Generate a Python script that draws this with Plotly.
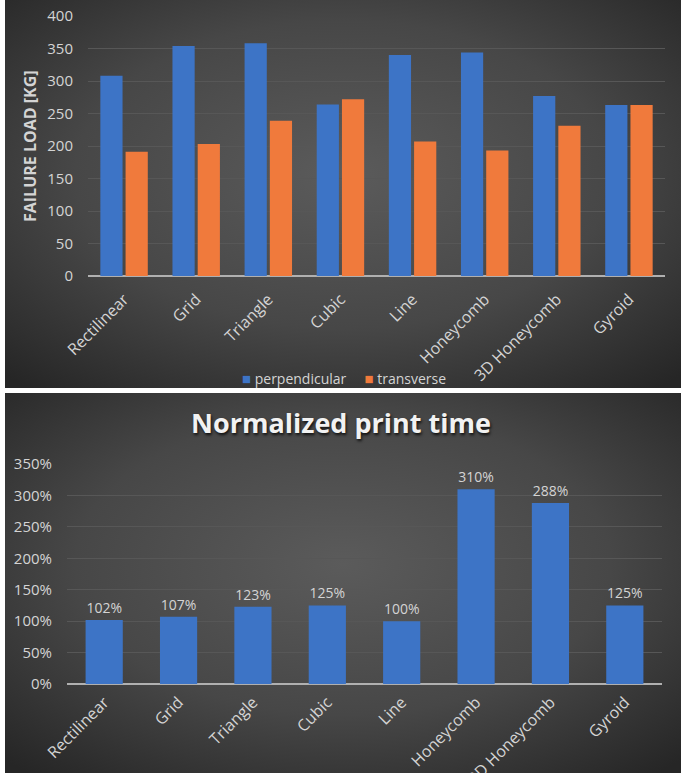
import base64
import plotly.graph_objects as go

# ---------------- data ----------------
categories = ["Rectilinear", "Grid", "Triangle", "Cubic", "Line",
              "Honeycomb", "3D Honeycomb", "Gyroid"]
perpendicular = [308, 354, 358, 264, 340, 344, 277, 263]
transverse = [191, 203, 239, 272, 207, 193, 231, 263]
print_time_pct = [102, 107, 123, 125, 100, 310, 288, 125]

series_names = ["perpendicular", "transverse"]
load_ticks = [0, 50, 100, 150, 200, 250, 300, 350, 400]
time_ticks = [0, 50, 100, 150, 200, 250, 300, 350]
time_tick_text = ["0%", "50%", "100%", "150%", "200%", "250%", "300%", "350%"]

W, H = 687, 773
BLUE = "#3d74c6"
ORANGE = "#f07a3c"
TXT = "#d4d4d4"
GRID = "#575757"
FONT = "Open Sans"


def px(x):
    return x / W


def py(y):
    return 1 - y / H


def grad_svg(w, h):
    svg = (
        f"<svg xmlns='http://www.w3.org/2000/svg' width='{w}' height='{h}' "
        f"viewBox='0 0 {w} {h}' preserveAspectRatio='none'>"
        "<defs><radialGradient id='g' cx='50%' cy='45%' r='72%'>"
        "<stop offset='0' stop-color='#5b5b5b'/>"
        "<stop offset='0.55' stop-color='#474747'/>"
        "<stop offset='1' stop-color='#262626'/>"
        "</radialGradient></defs>"
        f"<rect x='0' y='0' width='{w}' height='{h}' fill='url(#g)'/></svg>"
    )
    return "data:image/svg+xml;base64," + base64.b64encode(svg.encode()).decode()


fig = go.Figure()

fig.add_trace(go.Bar(
    x=categories, y=perpendicular, name=series_names[0],
    marker=dict(color=BLUE, line=dict(width=0)),
    xaxis="x", yaxis="y", showlegend=False,
))
fig.add_trace(go.Bar(
    x=categories, y=transverse, name=series_names[1],
    marker=dict(color=ORANGE, line=dict(width=0)),
    xaxis="x", yaxis="y", showlegend=False,
))
fig.add_trace(go.Bar(
    x=categories, y=print_time_pct, name="print time",
    marker=dict(color=BLUE, line=dict(width=0)),
    text=[f"{v}%" for v in print_time_pct], textposition="outside",
    textfont=dict(color=TXT, size=14, family=FONT),
    cliponaxis=False, showlegend=False,
    xaxis="x2", yaxis="y2", width=0.5,
))

axis_common = dict(showline=False, ticks="", automargin=False)
ytick_font = dict(color=TXT, size=15, family=FONT)
xtick_font = dict(color=TXT, size=16, family=FONT)

legend_text = (
    f"<span style='color:{BLUE};font-size:15px'>■</span> {series_names[0]}"
    f"     <span style='color:{ORANGE};font-size:15px'>■</span> {series_names[1]}"
)

fig.update_layout(
    width=W, height=H,
    margin=dict(l=0, r=0, t=0, b=0, pad=0, autoexpand=False),
    paper_bgcolor="white",
    plot_bgcolor="rgba(0,0,0,0)",
    barmode="group",
    bargap=0.3,
    bargroupgap=0.12,
    showlegend=False,
    font=dict(family=FONT, color=TXT),
    xaxis=dict(domain=[px(88), px(665)], anchor="y", tickangle=-45,
               showgrid=False, zeroline=False, tickfont=xtick_font,
               ticklabelstandoff=10, **axis_common),
    yaxis=dict(domain=[py(276), py(16)], anchor="x", range=[0, 400],
               tickvals=load_ticks, showgrid=True, gridcolor=GRID,
               gridwidth=1, zeroline=True, zerolinecolor="#b0b0b0",
               zerolinewidth=1.5, ticklabelstandoff=14, tickfont=ytick_font,
               **axis_common),
    xaxis2=dict(domain=[px(67), px(662)], anchor="y2", tickangle=-45,
                showgrid=False, zeroline=False, tickfont=xtick_font,
                ticklabelstandoff=5, **axis_common),
    yaxis2=dict(domain=[py(684), py(464)], anchor="x2", range=[0, 350],
                tickvals=time_ticks, ticktext=time_tick_text, showgrid=True,
                gridcolor=GRID, gridwidth=1, zeroline=True,
                zerolinecolor="#b0b0b0", zerolinewidth=1.5,
                ticklabelstandoff=14, tickfont=ytick_font, **axis_common),
    images=[
        dict(source=grad_svg(676, 388), xref="paper", yref="paper",
             x=px(5), y=py(0), sizex=676 / W, sizey=388 / H,
             xanchor="left", yanchor="top", sizing="stretch", layer="below"),
        dict(source=grad_svg(676, 380), xref="paper", yref="paper",
             x=px(5), y=py(393), sizex=676 / W, sizey=380 / H,
             xanchor="left", yanchor="top", sizing="stretch", layer="below"),
    ],
    annotations=[
        dict(text="<b>FAILURE LOAD [KG]</b>", textangle=-90, xref="paper",
             yref="paper", x=px(30), y=py(146), xanchor="center",
             yanchor="middle", showarrow=False,
             font=dict(size=16, color=TXT, family=FONT)),
        dict(text="<b>Normalized print time</b>", xref="paper", yref="paper",
             x=px(341), y=py(423), xanchor="center", yanchor="middle",
             showarrow=False,
             font=dict(size=27, color="#f2f2f2", family=FONT,
                       shadow="1px 2px 3px rgba(0,0,0,0.8)")),
        dict(text=legend_text, xref="paper", yref="paper",
             x=px(344), y=py(378), xanchor="center", yanchor="middle",
             showarrow=False, borderpad=0,
             font=dict(size=14, color=TXT, family=FONT)),
    ],
)

fig.write_html("out.html")
